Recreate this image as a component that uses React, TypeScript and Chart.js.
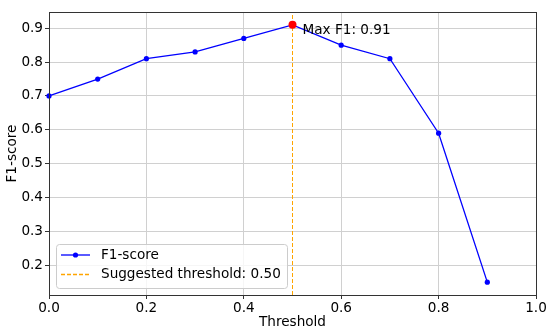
import React, { useEffect, useRef } from "react";
import { Chart, registerables } from "chart.js";

Chart.register(...registerables);

const thresholds = [0.0, 0.1, 0.2, 0.3, 0.4, 0.5, 0.6, 0.7, 0.8, 0.9];
const f1Scores = [0.70, 0.75, 0.81, 0.83, 0.87, 0.91, 0.85, 0.81, 0.59, 0.15];
const xTicks = [0.0, 0.2, 0.4, 0.6, 0.8, 1.0];
const yTicks = [0.2, 0.3, 0.4, 0.5, 0.6, 0.7, 0.8, 0.9];
const suggestedThreshold = 0.5;
const X_MIN = 0;
const X_MAX = 1;
const Y_MIN = 0.112;
const Y_MAX = 0.948;

const FONT = "'DejaVu Sans', sans-serif";
const FS = 13.6;

export default function App() {
  const ref = useRef<HTMLCanvasElement | null>(null);

  useEffect(() => {
    document.body.style.margin = "0";
    const canvas = ref.current;
    if (!canvas) return;

    let maxIdx = 0;
    f1Scores.forEach((v, i) => {
      if (v > f1Scores[maxIdx]) maxIdx = i;
    });
    const maxPoint = { x: thresholds[maxIdx], y: f1Scores[maxIdx] };

    const overlay = {
      id: "overlay",
      afterDatasetsDraw(chart: any) {
        const { ctx, chartArea } = chart;
        ctx.save();
        ctx.strokeStyle = "#333333";
        ctx.lineWidth = 1;
        ctx.strokeRect(
          Math.round(chartArea.left) + 0.5,
          Math.round(chartArea.top) + 0.5,
          Math.round(chartArea.right - chartArea.left),
          Math.round(chartArea.bottom - chartArea.top)
        );
        ctx.restore();
      },
      afterDraw(chart: any) {
        const { ctx, chartArea, scales } = chart;
        ctx.save();
        // annotation
        const px = scales.x.getPixelForValue(maxPoint.x);
        const py = scales.y.getPixelForValue(maxPoint.y);
        ctx.fillStyle = "#000";
        ctx.font = `${FS}px ${FONT}`;
        ctx.textAlign = "left";
        ctx.textBaseline = "middle";
        ctx.fillText(`Max F1: ${maxPoint.y.toFixed(2)}`, px + 10, py + 6);

        // axis titles
        ctx.textAlign = "center";
        ctx.textBaseline = "middle";
        ctx.fillText("Threshold", (chartArea.left + chartArea.right) / 2, 322);
        ctx.save();
        ctx.translate(12, (chartArea.top + chartArea.bottom) / 2);
        ctx.rotate(-Math.PI / 2);
        ctx.fillText("F1-score", 0, 0);
        ctx.restore();

        // legend
        const lx = 56.5, ly = 244.5, lw = 231, lh = 44, r = 3;
        ctx.beginPath();
        ctx.moveTo(lx + r, ly);
        ctx.lineTo(lx + lw - r, ly);
        ctx.arcTo(lx + lw, ly, lx + lw, ly + r, r);
        ctx.lineTo(lx + lw, ly + lh - r);
        ctx.arcTo(lx + lw, ly + lh, lx + lw - r, ly + lh, r);
        ctx.lineTo(lx + r, ly + lh);
        ctx.arcTo(lx, ly + lh, lx, ly + lh - r, r);
        ctx.lineTo(lx, ly + r);
        ctx.arcTo(lx, ly, lx + r, ly, r);
        ctx.closePath();
        ctx.fillStyle = "rgba(255,255,255,0.8)";
        ctx.fill();
        ctx.strokeStyle = "#cccccc";
        ctx.lineWidth = 1;
        ctx.stroke();

        const y1 = 255, y2 = 274.5;
        ctx.strokeStyle = "#0000ff";
        ctx.lineWidth = 1.3;
        ctx.setLineDash([]);
        ctx.beginPath();
        ctx.moveTo(61, y1);
        ctx.lineTo(90, y1);
        ctx.stroke();
        ctx.fillStyle = "#0000ff";
        ctx.beginPath();
        ctx.arc(75.5, y1, 2.6, 0, Math.PI * 2);
        ctx.fill();

        ctx.strokeStyle = "#ffa500";
        ctx.setLineDash([4, 2]);
        ctx.beginPath();
        ctx.moveTo(61, y2);
        ctx.lineTo(90, y2);
        ctx.stroke();
        ctx.setLineDash([]);

        ctx.fillStyle = "#000";
        ctx.textAlign = "left";
        ctx.font = `${FS}px ${FONT}`;
        ctx.fillText("F1-score", 101, y1);
        ctx.fillText(`Suggested threshold: ${suggestedThreshold.toFixed(2)}`, 101, y2);
        ctx.restore();
      },
    };

    const chart = new Chart(canvas, {
      type: "scatter",
      data: {
        datasets: [
          {
            label: "F1-score",
            data: thresholds.map((t, i) => ({ x: t, y: f1Scores[i] })),
            showLine: true,
            borderColor: "#0000ff",
            backgroundColor: "#0000ff",
            borderWidth: 1.3,
            pointRadius: 2.6,
            pointHoverRadius: 2.6,
            pointBorderWidth: 0,
            clip: false,
            order: 2,
          } as any,
          {
            label: `Suggested threshold: ${suggestedThreshold.toFixed(2)}`,
            data: [
              { x: suggestedThreshold, y: Y_MIN },
              { x: suggestedThreshold, y: Y_MAX },
            ],
            showLine: true,
            borderColor: "#ffa500",
            borderWidth: 1,
            borderDash: [4, 2],
            pointRadius: 0,
            order: 1,
          } as any,
          {
            label: "Max",
            data: [maxPoint],
            backgroundColor: "#ff0000",
            borderColor: "#ff0000",
            pointRadius: 4,
            pointBorderWidth: 0,
            clip: false,
            order: 0,
          } as any,
        ],
      },
      options: {
        responsive: false,
        animation: false,
        events: [],
        layout: { padding: { top: 12, right: 14, left: 0, bottom: 0 } },
        plugins: {
          legend: { display: false },
          tooltip: { enabled: false },
        },
        scales: {
          x: {
            type: "linear",
            min: X_MIN,
            max: X_MAX,
            afterBuildTicks: (s: any) => {
              s.ticks = xTicks.map((v) => ({ value: v }));
            },
            afterFit: (s: any) => {
              s.height = 41;
            },
            ticks: {
              color: "#000",
              font: { family: FONT, size: FS },
              padding: 1,
              maxRotation: 0,
              autoSkip: false,
              callback: (v: any) => Number(v).toFixed(1),
            },
            grid: {
              color: "#d0d0d0",
              lineWidth: 1,
              tickColor: "#333333",
              tickLength: 4,
            },
            border: { display: false },
          },
          y: {
            type: "linear",
            min: Y_MIN,
            max: Y_MAX,
            afterBuildTicks: (s: any) => {
              s.ticks = yTicks.map((v) => ({ value: v }));
            },
            afterFit: (s: any) => {
              s.width = 49;
            },
            ticks: {
              color: "#000",
              font: { family: FONT, size: FS },
              padding: 2,
              autoSkip: false,
              callback: (v: any) => Number(v).toFixed(1),
            },
            grid: {
              color: "#d0d0d0",
              lineWidth: 1,
              tickColor: "#333333",
              tickLength: 4,
            },
            border: { display: false },
          },
        },
      } as any,
      plugins: [overlay],
    });

    return () => chart.destroy();
  }, []);

  return <canvas ref={ref} width={550} height={336} style={{ display: "block" }} />;
}
